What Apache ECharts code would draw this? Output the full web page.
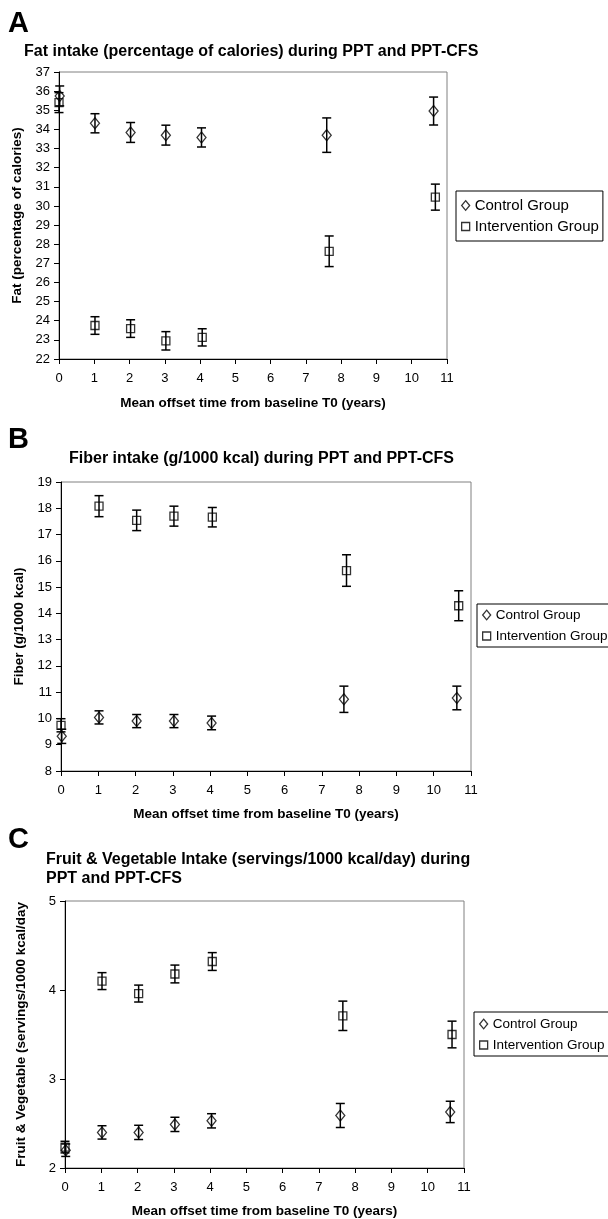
<!DOCTYPE html>
<html>
<head>
<meta charset="utf-8">
<style>
  html, body { margin: 0; padding: 0; background: #fff; }
  #chart { width: 608px; height: 1219px; }
</style>
<script src="https://cdn.jsdelivr.net/npm/echarts@6/dist/echarts.min.js"></script>
</head>
<body>
<div id="chart"></div>
<script>
// ---- Data ----
const xTickValues = [0, 1, 2, 3, 4, 5, 6, 7, 8, 9, 10, 11];
const timeControl = [0.02, 1.02, 2.03, 3.03, 4.04, 7.59, 10.62];
const timeIntervention = [0, 1.02, 2.03, 3.03, 4.06, 7.66, 10.67];

// Panel A: Fat (% of calories)
const fatControlMean = [35.75, 34.32, 33.84, 33.70, 33.58, 33.70, 34.96];
const fatControlErr = [0.52, 0.5, 0.52, 0.52, 0.5, 0.9, 0.73];
const fatInterventionMean = [35.4, 23.75, 23.59, 22.95, 23.13, 27.63, 30.46];
const fatInterventionErr = [0.52, 0.46, 0.46, 0.48, 0.45, 0.8, 0.68];

// Panel B: Fiber (g/1000 kcal)
const fiberControlMean = [9.32, 10.04, 9.9, 9.9, 9.83, 10.73, 10.78];
const fiberControlErr = [0.27, 0.25, 0.25, 0.25, 0.26, 0.5, 0.45];
const fiberInterventionMean = [9.74, 18.08, 17.54, 17.7, 17.66, 15.63, 14.29];
const fiberInterventionErr = [0.25, 0.4, 0.39, 0.38, 0.37, 0.6, 0.57];

// Panel C: Fruit & Vegetable (servings/1000 kcal/day)
const fvControlMean = [2.2, 2.40, 2.40, 2.49, 2.53, 2.59, 2.63];
const fvControlErr = [0.07, 0.075, 0.08, 0.08, 0.08, 0.135, 0.12];
const fvInterventionMean = [2.235, 4.10, 3.96, 4.18, 4.32, 3.71, 3.50];
const fvInterventionErr = [0.065, 0.095, 0.095, 0.1, 0.1, 0.165, 0.15];

const panelLetters = ['A', 'B', 'C'];
const panelTitles = [
  'Fat intake (percentage of calories) during PPT and PPT-CFS',
  'Fiber intake (g/1000 kcal) during PPT and PPT-CFS',
  'Fruit & Vegetable Intake (servings/1000 kcal/day) during\nPPT and PPT-CFS'
];
const yAxisTitles = [
  'Fat (percentage of calories)',
  'Fiber (g/1000 kcal)',
  'Fruit & Vegetable (servings/1000 kcal/day'
];
const xAxisTitle = 'Mean offset time from baseline T0 (years)';
const groupNames = ['Control Group', 'Intervention Group'];
const yRanges = [[22, 37], [8, 19], [2, 5]];

// ---- Layout / style ----
const FONT = '"Liberation Sans", Arial, sans-serif';
const grids = [
  { left: 59, top: 72, width: 388, height: 287 },
  { left: 61, top: 482, width: 410, height: 289 },
  { left: 65, top: 901, width: 399, height: 267 }
];
const yNameGaps = [34, 32, 37];
const xNameGaps = [37, 36, 36];
const letterTops = [9, 425, 825];
const titlePos = [{ left: 24, top: 42 }, { left: 69, top: 449 }, { left: 46, top: 850 }];
const titleSizes = [16, 16, 16];
const legendPos = [
  { left: 456, top: 191, padding: [7, 4, 7, 5], fontSize: 15, itemHeight: 15, itemGap: 6 },
  { left: 477, top: 604, padding: [4, 30, 4, 5], fontSize: 13.5, itemHeight: 14, itemGap: 7 },
  { left: 474, top: 1012, padding: [5, 30, 4, 5], fontSize: 13.5, itemHeight: 14, itemGap: 7 }
];
const DIAMOND = 'path://M5,0 L10,6 L5,12 L0,6 Z';
const SQUARE = 'path://M0,0 L10,0 L10,10 L0,10 Z';

const panels = [
  [fatControlMean, fatControlErr, fatInterventionMean, fatInterventionErr],
  [fiberControlMean, fiberControlErr, fiberInterventionMean, fiberInterventionErr],
  [fvControlMean, fvControlErr, fvInterventionMean, fvInterventionErr]
];

function errorBarRender(params, api) {
  const x = api.value(0);
  const lo = api.coord([x, api.value(1)]);
  const hi = api.coord([x, api.value(2)]);
  const cap = 4.5;
  const style = { stroke: '#000', lineWidth: 1.5 };
  return {
    type: 'group',
    children: [
      { type: 'line', shape: { x1: lo[0], y1: lo[1], x2: hi[0], y2: hi[1] }, style: style },
      { type: 'line', shape: { x1: lo[0] - cap, y1: lo[1], x2: lo[0] + cap, y2: lo[1] }, style: style },
      { type: 'line', shape: { x1: hi[0] - cap, y1: hi[1], x2: hi[0] + cap, y2: hi[1] }, style: style }
    ]
  };
}

const option = {
  animation: false,
  backgroundColor: '#fff',
  textStyle: { fontFamily: FONT },
  title: [],
  legend: [],
  grid: [],
  xAxis: [],
  yAxis: [],
  series: []
};

panels.forEach((p, i) => {
  option.title.push({
    text: panelLetters[i], left: 8, top: letterTops[i], padding: 0,
    textStyle: { fontFamily: FONT, fontSize: 29, fontWeight: 'bold', color: '#000' }
  });
  option.title.push({
    text: panelTitles[i], left: titlePos[i].left, top: titlePos[i].top, padding: 0,
    textStyle: { fontFamily: FONT, fontSize: titleSizes[i], fontWeight: 'bold', color: '#000', lineHeight: 19 }
  });
  option.grid.push(Object.assign({ show: true, borderColor: '#808080', borderWidth: 1, backgroundColor: 'transparent' }, grids[i]));
  option.xAxis.push({
    type: 'value', gridIndex: i, min: 0, max: 11, interval: 1,
    name: xAxisTitle, nameLocation: 'middle', nameGap: xNameGaps[i],
    nameTextStyle: { fontFamily: FONT, fontSize: 13.5, fontWeight: 'bold', color: '#000' },
    axisLine: { show: true, onZero: false, lineStyle: { color: '#000', width: 1 } },
    axisTick: { show: true, inside: false, length: 5, lineStyle: { color: '#000' } },
    axisLabel: { show: true, margin: 13, fontFamily: FONT, fontSize: 13, color: '#000',
      formatter: v => (xTickValues.indexOf(v) >= 0 ? String(v) : '') },
    splitLine: { show: false }
  });
  option.yAxis.push({
    type: 'value', gridIndex: i, min: yRanges[i][0], max: yRanges[i][1], interval: 1,
    name: yAxisTitles[i], nameLocation: 'middle', nameGap: yNameGaps[i], nameRotate: 90,
    nameTextStyle: { fontFamily: FONT, fontSize: 13.5, fontWeight: 'bold', color: '#000' },
    axisLine: { show: true, onZero: false, lineStyle: { color: '#000', width: 1 } },
    axisTick: { show: true, inside: false, length: 5, lineStyle: { color: '#000' } },
    axisLabel: { show: true, margin: 9, fontFamily: FONT, fontSize: 13, color: '#000' },
    splitLine: { show: false }
  });
  const [cMean, cErr, iMean, iErr] = p;
  const cName = groupNames[0], iName = groupNames[1];
  // error bars
  option.series.push({
    type: 'custom', xAxisIndex: i, yAxisIndex: i, renderItem: errorBarRender, silent: true, z: 1,
    data: timeControl.map((t, k) => [t, cMean[k] - cErr[k], cMean[k] + cErr[k]])
  });
  option.series.push({
    type: 'custom', xAxisIndex: i, yAxisIndex: i, renderItem: errorBarRender, silent: true, z: 1,
    data: timeIntervention.map((t, k) => [t, iMean[k] - iErr[k], iMean[k] + iErr[k]])
  });
  // markers
  option.series.push({
    name: cName, type: 'scatter', xAxisIndex: i, yAxisIndex: i, z: 3,
    symbol: DIAMOND, symbolSize: [9, 11], symbolKeepAspect: false,
    itemStyle: { color: 'transparent', borderColor: '#000', borderWidth: 1.3 },
    data: timeControl.map((t, k) => [t, cMean[k]])
  });
  option.series.push({
    name: iName, type: 'scatter', xAxisIndex: i, yAxisIndex: i, z: 3,
    symbol: SQUARE, symbolSize: [8, 8], symbolKeepAspect: false,
    itemStyle: { color: 'transparent', borderColor: '#000', borderWidth: 1.3 },
    data: timeIntervention.map((t, k) => [t, iMean[k]])
  });
  const lg = legendPos[i];
  option.legend.push({
    orient: 'vertical', left: lg.left, top: lg.top, padding: lg.padding,
    borderColor: '#000', borderWidth: 1, backgroundColor: '#fff',
    itemWidth: 8, itemHeight: lg.itemHeight, itemGap: lg.itemGap, selectedMode: false,
    textStyle: { fontFamily: FONT, fontSize: lg.fontSize, color: '#000' },
    data: [
      { name: cName, icon: DIAMOND, itemStyle: { color: 'transparent', borderColor: '#000', borderWidth: 1.3 } },
      { name: iName, icon: SQUARE, itemStyle: { color: 'transparent', borderColor: '#000', borderWidth: 1.3 } }
    ]
  });
});

const chart = echarts.init(document.getElementById('chart'), null, { renderer: 'canvas', width: 608, height: 1219 });
chart.setOption(option);
</script>
</body>
</html>
